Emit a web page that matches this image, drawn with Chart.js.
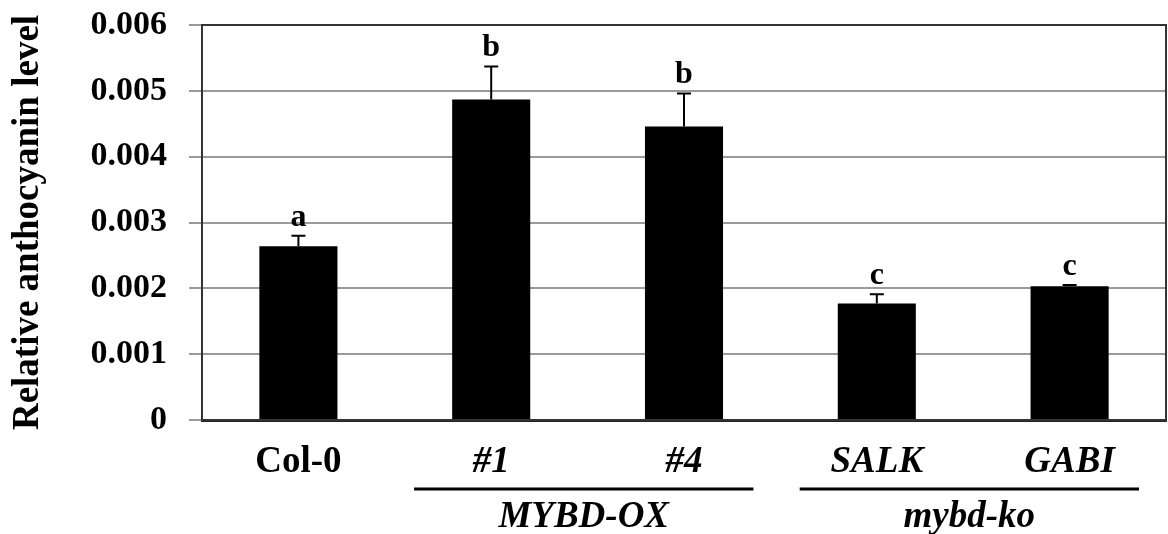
<!DOCTYPE html>
<html>
<head>
<meta charset="utf-8">
<script src="https://cdn.jsdelivr.net/npm/chart.js@4"></script>
<style>
  html, body { margin: 0; padding: 0; background: #fff; }
  #wrap { width: 1168px; height: 534px; }
</style>
</head>
<body>
<div id="wrap"><canvas id="chart"></canvas></div>
<script>
const categories = ["Col-0", "#1", "#4", "SALK", "GABI"];
const italicLabels = [false, true, true, true, true];
const anthocyanin = [0.00264, 0.00487, 0.00446, 0.00177, 0.00203];
const errors = [0.00016, 0.0005, 0.0005, 0.00014, 0.00002];
const sigLetters = ["a", "b", "b", "c", "c"];
const yTickLabels = ["0", "0.001", "0.002", "0.003", "0.004", "0.005", "0.006"];
const groupNames = ["MYBD-OX", "mybd-ko"];
const groupMembers = [[1, 2], [3, 4]];

const SERIF = "'Liberation Serif', 'Times New Roman', serif";

// error bars, letters, frame and group brackets
const annotations = {
  id: "annotations",
  afterDatasetsDraw(chart) {
    const ctx = chart.ctx;
    const y = chart.scales.y;
    const meta = chart.getDatasetMeta(0);
    ctx.save();
    ctx.strokeStyle = "#000";
    ctx.fillStyle = "#000";
    ctx.lineWidth = 2;
    ctx.font = "bold 32px " + SERIF;
    ctx.textAlign = "center";
    ctx.textBaseline = "alphabetic";
    meta.data.forEach((bar, i) => {
      const top = y.getPixelForValue(anthocyanin[i] + errors[i]);
      ctx.beginPath();
      ctx.moveTo(bar.x, bar.y);
      ctx.lineTo(bar.x, top);
      ctx.moveTo(bar.x - 7, top);
      ctx.lineTo(bar.x + 7, top);
      ctx.stroke();
      ctx.fillText(sigLetters[i], bar.x, top - 10);
    });
    ctx.restore();
  },
  afterDraw(chart) {
    const ctx = chart.ctx;
    const a = chart.chartArea;
    const x = chart.scales.x;
    ctx.save();
    ctx.strokeStyle = "#333";
    ctx.lineWidth = 2;
    ctx.strokeRect(a.left, a.top, a.right - a.left, a.bottom - a.top);

    ctx.strokeStyle = "#000";
    ctx.lineWidth = 3;
    ctx.fillStyle = "#000";
    ctx.font = "italic bold 37px " + SERIF;
    ctx.textAlign = "center";
    ctx.textBaseline = "middle";
    groupMembers.forEach((m, g) => {
      const x0 = x.getPixelForValue(m[0] - 0.4);
      const x1 = x.getPixelForValue(m[m.length - 1] + 0.36);
      ctx.beginPath();
      ctx.moveTo(x0, 489);
      ctx.lineTo(x1, 489);
      ctx.stroke();
      ctx.fillText(groupNames[g], (x0 + x1) / 2, 517);
    });
    ctx.restore();
  }
};

new Chart(document.getElementById("chart"), {
  type: "bar",
  data: {
    labels: categories,
    datasets: [{
      data: anthocyanin,
      backgroundColor: "#000",
      borderWidth: 0,
      barPercentage: 0.405,
      categoryPercentage: 1
    }]
  },
  options: {
    responsive: true,
    maintainAspectRatio: false,
    animation: false,
    layout: { padding: { top: 25, right: 2, left: 0, bottom: 0 } },
    plugins: {
      legend: { display: false },
      tooltip: { enabled: false }
    },
    scales: {
      x: {
        grid: { display: false, drawTicks: false },
        border: { color: "#222", width: 3 },
        ticks: {
          color: "#000",
          padding: 20,
          font: (c) => ({
            family: SERIF,
            size: 37,
            weight: "bold",
            style: italicLabels[c.index] ? "italic" : "normal"
          })
        },
        afterFit: (s) => { s.height = 114; s.paddingLeft = 0; s.paddingRight = 0; }
      },
      y: {
        min: 0,
        max: 0.006,
        ticks: {
          stepSize: 0.001,
          color: "#000",
          padding: 22,
          font: { family: SERIF, size: 34, weight: "bold" },
          callback: (v, i) => yTickLabels[i]
        },
        grid: { color: "#9a9a9a", lineWidth: 2, tickLength: 13 },
        border: { color: "#333", width: 2 },
        title: {
          display: true,
          text: "Relative anthocyanin level",
          color: "#000",
          font: { family: SERIF, size: 37, weight: "bold" },
          padding: { top: 6, bottom: 0 }
        },
        afterFit: (s) => { s.width = 202; s.paddingTop = 0; s.paddingBottom = 0; }
      }
    }
  },
  plugins: [annotations]
});
</script>
</body>
</html>
